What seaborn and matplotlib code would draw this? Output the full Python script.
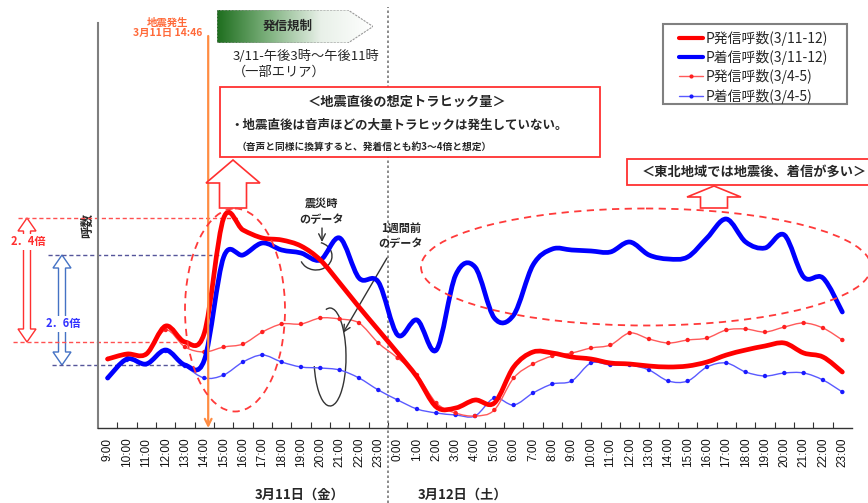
import numpy as np
import matplotlib
matplotlib.use("Agg")
import matplotlib.pyplot as plt
import matplotlib.transforms as mtransforms
from matplotlib.path import Path
from matplotlib.patches import PathPatch, Ellipse, Arc, Polygon, Rectangle
from matplotlib.lines import Line2D
from matplotlib.colors import LinearSegmentedColormap
import seaborn as sns

# hourly categories, 3/11 9:00 .. 3/12 23:00
hours = [f"{h}:00" for h in range(9, 24)] + [f"{h}:00" for h in range(0, 24)]
day_labels = ["3月11日（金）", "3月12日（土）"]

# relative call volume (no scale shown on the original)
red_0311 = [69, 74, 74, 102, 86, 95, 210, 198, 190, 188, 182, 168, 145, 121, 98,
            75, 51, 21, 20, 28, 25, 61, 76, 75, 71, 69, 65, 64, 62, 61, 62, 66, 73,
            78, 82, 85, 75, 71, 56]
blue_0311 = [50, 69, 64, 78, 63, 68, 171, 173, 185, 178, 175, 168, 190, 150, 146,
             93, 108, 78, 153, 161, 110, 113, 163, 179, 178, 177, 176, 186, 173, 169,
             171, 190, 209, 186, 180, 193, 151, 150, 116]
red_0304 = [69, 73, 74, 98, 81, 76, 81, 84, 96, 104, 104, 110, 109, 105, 85,
            70, 53, 25, 15, 12, 18, 50, 64, 72, 75, 80, 83, 95, 89, 85, 88, 90, 98,
            99, 96, 101, 105, 100, 88]
blue_0304 = [50, 68, 64, 77, 62, 50, 53, 66, 73, 66, 61, 60, 58, 50, 38,
             28, 19, 15, 13, 12, 30, 23, 35, 44, 47, 65, 63, 63, 58, 47, 47, 61, 65,
             56, 52, 55, 55, 48, 36]
series_labels = ["P発信呼数(3/11-12)", "P着信呼数(3/11-12)",
                 "P発信呼数(3/4-5)", "P着信呼数(3/4-5)"]

sns.set_theme(style="white")
plt.rcParams['font.family'] = ['Noto Sans CJK JP', 'DejaVu Sans']

W, H = 868, 503
fig = plt.figure(figsize=(W / 100, H / 100), dpi=100)
ax = fig.add_axes([98 / W, 75 / H, 754 / W, 405 / H])
# pixel coords (y down) for the decorations
px = mtransforms.Affine2D().scale(1 / W, -1 / H).translate(0, 1) + fig.transFigure
# x in pixels, y in data
pxy = mtransforms.blended_transform_factory(px, ax.transData)


def smooth_path(x, y):
    pts = np.column_stack([x, y]).astype(float)
    ext = np.vstack([pts[0], pts, pts[-1]])
    verts, codes = [pts[0]], [Path.MOVETO]
    for i in range(len(pts) - 1):
        p0, p1, p2, p3 = ext[i], ext[i + 1], ext[i + 2], ext[i + 3]
        verts += [p1 + (p2 - p0) / 6, p2 - (p3 - p1) / 6, p2]
        codes += [Path.CURVE4] * 3
    return Path(verts, codes)


x = np.arange(len(hours))
ax.add_patch(PathPatch(smooth_path(x, blue_0304), fill=False, ec='#5a5aff', lw=1, zorder=2))
sns.scatterplot(x=x, y=blue_0304, color='#1a1aff', s=10, edgecolor='none', ax=ax, zorder=3)
ax.add_patch(PathPatch(smooth_path(x, red_0304), fill=False, ec='#ff5a5a', lw=1, zorder=2))
sns.scatterplot(x=x, y=red_0304, color='#ff2020', s=10, edgecolor='none', ax=ax, zorder=3)
ax.add_patch(PathPatch(smooth_path(x, blue_0311), fill=False, ec='#0000ff', lw=3.4,
                       capstyle='round', joinstyle='round', zorder=4))
ax.add_patch(PathPatch(smooth_path(x, red_0311), fill=False, ec='#ff0000', lw=3.4,
                       capstyle='round', joinstyle='round', zorder=5))

ax.set_xlim(-0.5, len(hours) - 0.5)
ax.set_ylim(0, 405)
ax.set_xticks(x)
ax.set_xticklabels(hours, rotation=90, fontsize=8.5, family='Liberation Sans', color='#111111')
ax.set_xticks(np.arange(0.5, len(hours) - 1, 1), minor=True)
ax.tick_params(axis='x', which='major', length=0, pad=7)
ax.tick_params(axis='x', which='minor', direction='in', length=4, width=0.8,
               color='#333333', bottom=True)
ax.set_yticks([])
ax.set_ylabel("呼数", fontsize=9, fontweight='bold', labelpad=3)
for s in ['top', 'right']:
    ax.spines[s].set_visible(False)
ax.spines['left'].set_color('#7f7f7f')
ax.spines['left'].set_linewidth(1.5)
ax.spines['bottom'].set_color('#333333')
ax.spines['bottom'].set_linewidth(1)

# day separator
ax.axvline(14.5, ymin=-75 / 405, ymax=421 / 405, clip_on=False, color='#777777',
           lw=1.2, ls=(0, (1.5, 1.5)), zorder=1)
fig.text(300, 495, day_labels[0], transform=px, ha='center', va='center',
         fontsize=9.5, fontweight='bold')
fig.text(462, 495, day_labels[1], transform=px, ha='center', va='center',
         fontsize=9.5, fontweight='bold')

# earthquake marker
ax.annotate('', xy=(5.2, 0), xytext=(5.2, 392), annotation_clip=False,
            arrowprops=dict(arrowstyle='->', color='#ff8c42', lw=1.6,
                            shrinkA=0, shrinkB=0, mutation_scale=12), zorder=6)
fig.text(168, 23, "地震発生", transform=px, ha='center', va='center',
         fontsize=7.5, fontweight='bold', color='#ff6a3a')
fig.text(168, 33, "3月11日 14:46", transform=px, ha='center', va='center',
         fontsize=7.5, fontweight='bold', color='#ff6a3a')

# regulation banner
bax = fig.add_axes([217 / W, 1 - 43 / H, 156 / W, 33 / H])
bax.set_axis_off()
bax.set_xlim(0, 1)
bax.set_ylim(0, 1)
cmap = LinearSegmentedColormap.from_list('g', ['#1e6e1e', '#7fb27f', '#e8f0e8', '#ffffff'])
img = bax.imshow(np.linspace(0, 1, 256)[None, :], cmap=cmap, extent=[0, 1, 0, 1],
                 aspect='auto')
shape = Polygon([(0, 0), (0.84, 0), (1, 0.5), (0.84, 1), (0, 1)], closed=True,
                fill=False, ec='#999999', lw=0.8, ls=(0, (2, 1)), transform=bax.transData)
bax.add_patch(shape)
img.set_clip_path(shape)
bax.text(0.455, 0.5, "発信規制", ha='center', va='center', fontsize=9, fontweight='bold')
fig.text(233, 57, "3/11-午後3時～午後11時", transform=px, va='center', fontsize=9.5)
fig.text(233, 72, "（一部エリア）", transform=px, va='center', fontsize=9.5)

# assumed traffic box
fig.patches.append(Rectangle((220, 87), 380, 70, transform=px, fc='white',
                             ec='#ff3030', lw=1.3))
fig.text(407, 102, "＜地震直後の想定トラヒック量＞", transform=px, ha='center',
         va='center', fontsize=9.5, fontweight='bold')
fig.text(230, 125, "・地震直後は音声ほどの大量トラヒックは発生していない。", transform=px,
         va='center', fontsize=9, fontweight='bold')
fig.text(237, 147, "（音声と同様に換算すると、発着信とも約3～4倍と想定）", transform=px,
         va='center', fontsize=7, fontweight='bold')


def up_arrow(cx, tip, base, bottom, hw, sw):
    return Polygon([(cx, tip), (cx + hw, base), (cx + sw, base), (cx + sw, bottom),
                    (cx - sw, bottom), (cx - sw, base), (cx - hw, base)], closed=True,
                   transform=px, fc='white', ec='#ff3030', lw=1.2)


fig.patches.append(up_arrow(233, 160, 183, 208, 27, 13.5))

# tohoku box
fig.patches.append(Rectangle((627, 159), 260, 26, transform=px, fc='white',
                             ec='#ff3030', lw=1.3))
fig.text(642, 172, "＜東北地域では地震後、着信が多い＞", transform=px, va='center',
         fontsize=9.5, fontweight='bold')
fig.patches.append(up_arrow(714, 186, 197, 208, 27, 13.5))

# dashed ellipses
fig.patches.append(Ellipse((235, 310), 100, 203, transform=px, fill=False,
                           ec='#ff3a3a', lw=1.3, ls=(0, (4, 3))))
fig.patches.append(Ellipse((646, 267), 450, 117, transform=px, fill=False,
                           ec='#ff3a3a', lw=1.3, ls=(0, (4, 3))))

# level lines and ratio arrows
red_peak, red_base = max(red_0311), red_0311[4]
blue_peak, blue_base = blue_0311[7], blue_0311[4]
ax.plot([18, 240], [red_peak] * 2, transform=pxy, clip_on=False, color='#ff5050',
        lw=1, ls=(0, (3, 2)))
ax.plot([13, 190], [red_base] * 2, transform=pxy, clip_on=False, color='#ff5050',
        lw=1, ls=(0, (3, 2)))
ax.plot([48, 227], [blue_peak] * 2, transform=pxy, clip_on=False, color='#55559a',
        lw=1, ls=(0, (3, 2)))
ax.plot([52, 190], [blue_base] * 2, transform=pxy, clip_on=False, color='#55559a',
        lw=1, ls=(0, (3, 2)))


def double_arrow(cx, top, bot, color):
    hh, hw, sw = 13, 9, 3.5
    pts = [(cx, top), (cx + hw, top - hh), (cx + sw, top - hh), (cx + sw, bot + hh),
           (cx + hw, bot + hh), (cx, bot), (cx - hw, bot + hh), (cx - sw, bot + hh),
           (cx - sw, top - hh), (cx - hw, top - hh)]
    ax.add_patch(Polygon(pts, closed=True, transform=pxy, clip_on=False, fc='white',
                         ec=color, lw=1))


double_arrow(27, red_peak, red_base, '#ff3030')
double_arrow(62, blue_peak, blue_base, '#4472c4')
ax.text(28, 186, "2．4倍", transform=pxy, ha='center', va='center', fontsize=8,
        fontweight='bold', color='#ff3030',
        bbox=dict(fc='white', ec='none', pad=1))
ax.text(63, 104, "2．6倍", transform=pxy, ha='center', va='center', fontsize=8,
        fontweight='bold', color='#3333ff',
        bbox=dict(fc='white', ec='none', pad=1))

# callouts
fig.text(322, 203, "震災時", transform=px, ha='center', va='center', fontsize=8,
         fontweight='bold')
fig.text(322, 220, "のデータ", transform=px, ha='center', va='center', fontsize=8,
         fontweight='bold')
ax.annotate('', xy=(322, 428 - 242), xytext=(322, 428 - 228), xycoords=pxy,
            textcoords=pxy, annotation_clip=False,
            arrowprops=dict(arrowstyle='->', color='#333333', lw=1, shrinkA=0, shrinkB=0))
ax.add_patch(Arc((316, 428 - 256), 32, 28, theta1=200, theta2=70, transform=pxy,
                 color='#333333', lw=1, clip_on=False))
fig.text(401, 228, "1週間前", transform=px, ha='center', va='center', fontsize=8,
         fontweight='bold')
fig.text(401, 244, "のデータ", transform=px, ha='center', va='center', fontsize=8,
         fontweight='bold')
ax.annotate('', xy=(343, 428 - 333), xytext=(387, 428 - 258), xycoords=pxy,
            textcoords=pxy, annotation_clip=False,
            arrowprops=dict(arrowstyle='->', color='#333333', lw=1, shrinkA=0, shrinkB=0))
ax.add_patch(Arc((330, 428 - 357), 32, 98, theta1=210, theta2=95, transform=pxy,
                 color='#333333', lw=1, clip_on=False))

# legend (frame drawn separately)
fig.patches.append(Rectangle((663, 24), 184, 80, transform=px, fc='white',
                             ec='#808080', lw=1.5))
handles = [Line2D([], [], color='#ff0000', lw=3),
           Line2D([], [], color='#0000ff', lw=3),
           Line2D([], [], color='#ff5a5a', lw=1, marker='o', ms=3, mfc='#ff2020', mec='none'),
           Line2D([], [], color='#5a5aff', lw=1, marker='o', ms=3, mfc='#1a1aff', mec='none')]
leg = fig.legend(handles, series_labels, loc='upper left',
                 bbox_to_anchor=(679 / W, 1 - 31 / H), fontsize=10, frameon=False,
                 handlelength=1.7, handletextpad=0.2, labelspacing=0.3,
                 borderpad=0, borderaxespad=0)

fig.savefig("out.png", dpi=100)
